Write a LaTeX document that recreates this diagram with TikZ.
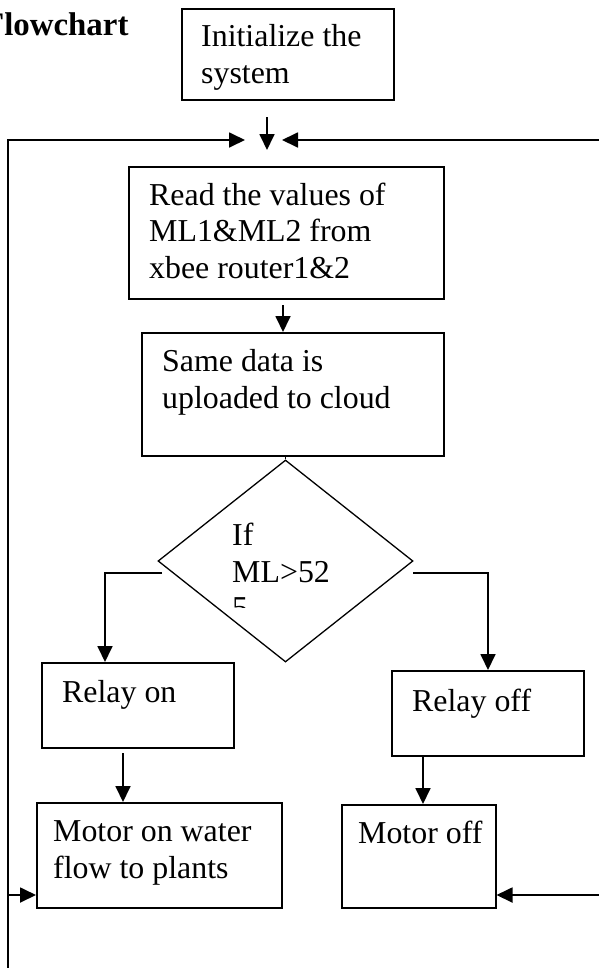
\documentclass[tikz,border=0pt]{standalone}
\usepackage{fontspec}
\setmainfont{Liberation Serif}
\usetikzlibrary{arrows.meta,shapes.geometric}
\begin{document}
\begin{tikzpicture}[x=1bp,y=-1bp,
  box/.style={draw, line width=1.5bp, anchor=north west, inner sep=0pt},
  txt/.style={anchor=base west, inner sep=0pt, align=left, font=\fontsize{32}{36.5}\selectfont},
  conn/.style={line width=1.8bp},
  arr/.style={line width=1.8bp, -{Triangle[length=16bp,width=15bp]}}]
\useasboundingbox (0,0) rectangle (599,968);
\fill[white] (0,0) rectangle (599,968);
% title
\node[anchor=base west, inner sep=0pt, font=\bfseries\fontsize{33}{36}\selectfont] (title) at (-16,35) {Flowchart};
% boxes
\node[box, minimum width=212bp, minimum height=91bp] (init) at (181,8) {};
\node[txt] (inittxt) at (201,83) {Initialize the\\system};
\node[box, minimum width=315bp, minimum height=132bp] (read) at (128,166) {};
\node[txt] (readtxt) at (149,278) {Read the values of\\ML1\&ML2 from\\xbee router1\&2};
\node[box, minimum width=302bp, minimum height=123bp] (same) at (141,332) {};
\node[txt] (sametxt) at (162,408) {Same data is\\uploaded to cloud};
\node[draw, diamond, line width=1.3bp, inner sep=0pt, minimum width=255bp, minimum height=202bp] (dec) at (285.5,561) {};
\node[txt] (dectxt) at (232,582) {If\\ML>52};
\begin{scope}
  \clip (220,590) rectangle (260,607);
  \node[txt] (dectxt5) at (232,618.5) {5};
\end{scope}
\node[box, minimum width=192bp, minimum height=85bp] (ron) at (41,662) {};
\node[txt] (rontxt) at (62,702) {Relay on};
\node[box, minimum width=192bp, minimum height=85bp] (roff) at (391,670) {};
\node[txt] (rofftxt) at (412,711) {Relay off};
\node[box, minimum width=245bp, minimum height=105bp] (mon) at (36,802) {};
\node[txt] (montxt) at (53,878) {Motor on water\\flow to plants};
\node[box, minimum width=154bp, minimum height=103bp] (moff) at (341,804) {};
\node[txt] (mofftxt) at (358,843) {Motor off};
% coordinates for free ends
\coordinate (a1) at (267,117);
\coordinate (a2) at (267,150);
\coordinate (lb) at (8,968);
\coordinate (lt) at (8,140);
\coordinate (lj) at (245,140);
\coordinate (rt) at (599,140);
\coordinate (rj) at (282,140);
\coordinate (lm) at (8,895);
\coordinate (rm) at (599,895);
\coordinate (b1) at (283,305);
\coordinate (dl) at (162,573);
\coordinate (dr) at (413,573);
\coordinate (c1) at (123,753);
\coordinate (c2) at (423,755);
% connectors
\draw[arr] (a1) -- (a2);
\draw[arr] (lb) -- (lt) -- (lj);
\draw[arr] (rt) -- (rj);
\draw[arr] (lm) -- (mon.west |- lm);
\draw[arr] (rm) -- (moff.east |- rm);
\draw[arr] (b1) -- (b1 |- same.north);
\draw[conn] (same.south -| dec.north) -- (dec.north);
\draw[arr] (dl) -| (ron.north -| 105,0);
\draw[arr] (dr) -| (roff.north -| 488,0);
\draw[arr] (c1) -- (c1 |- mon.north);
\draw[arr] (c2) -- (c2 |- moff.north);
\end{tikzpicture}
\end{document}
